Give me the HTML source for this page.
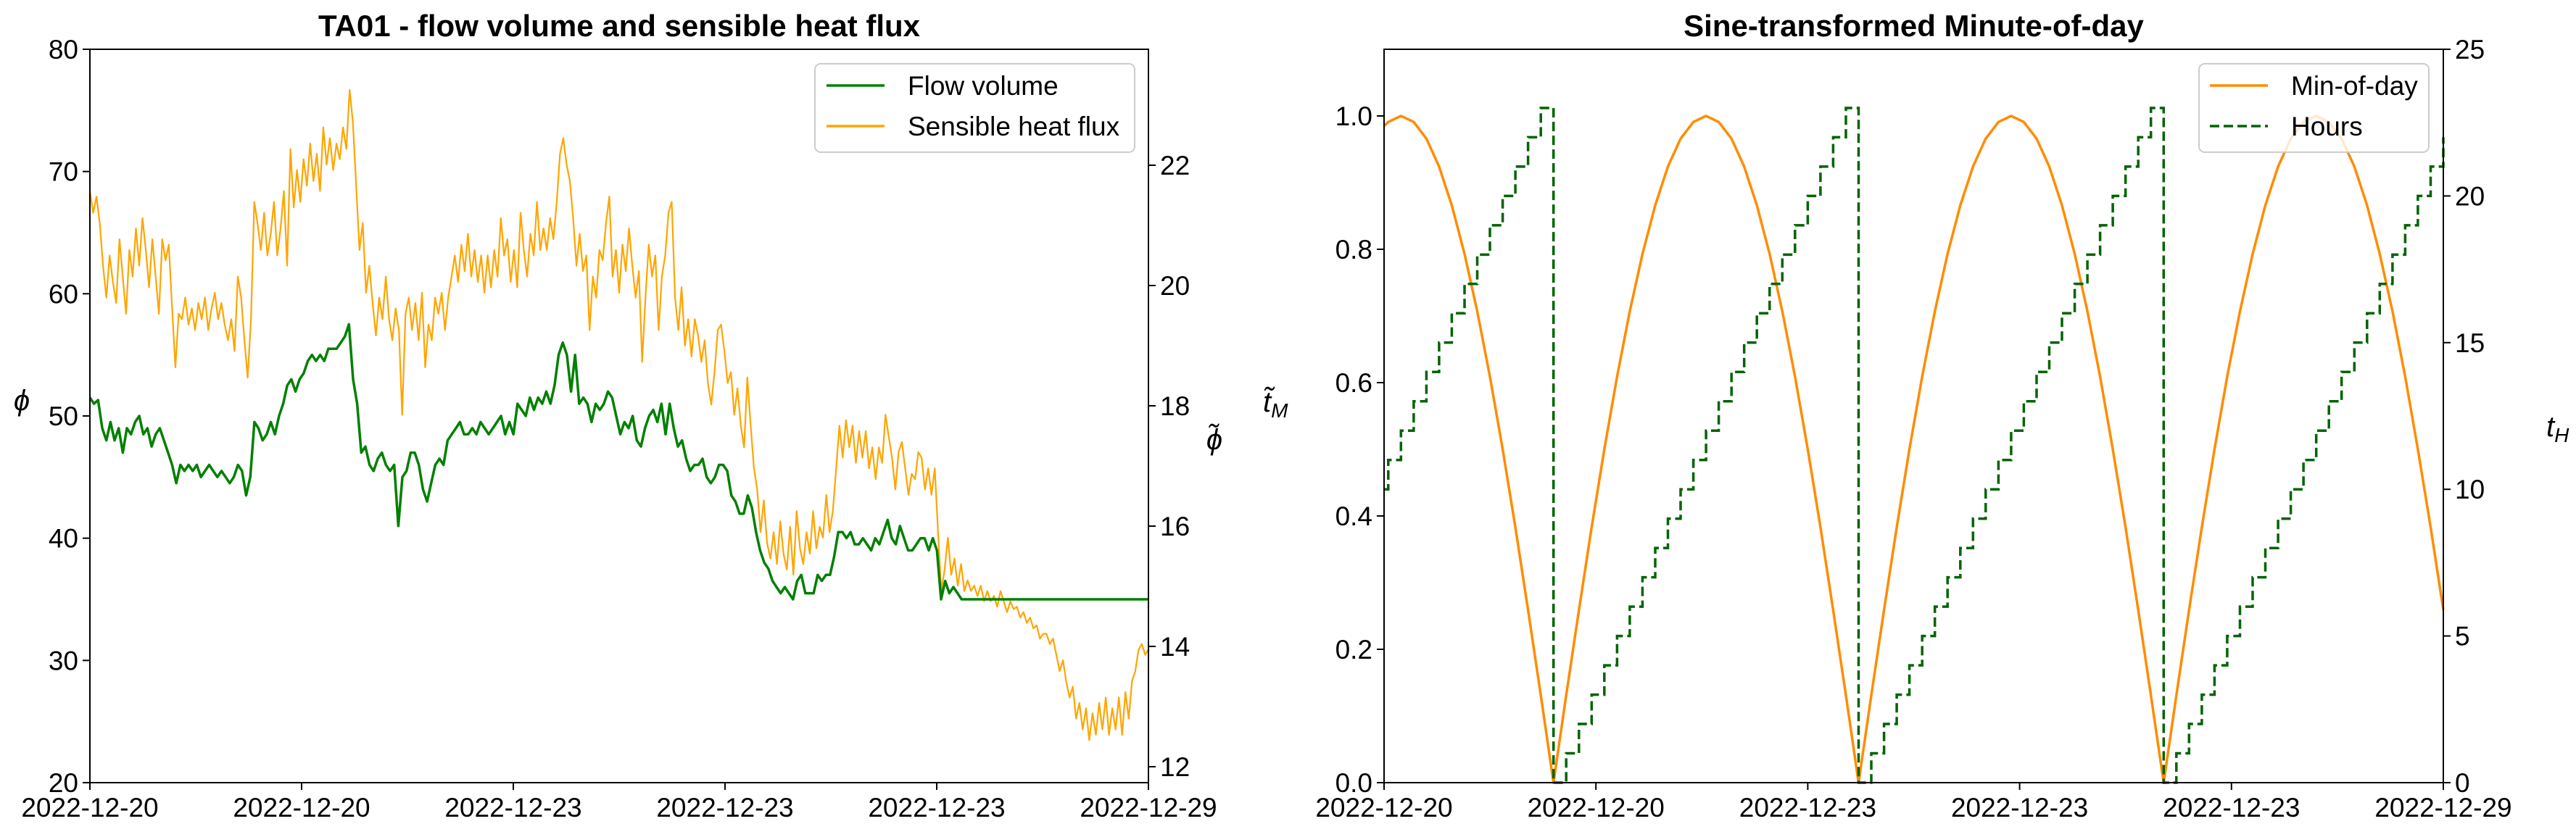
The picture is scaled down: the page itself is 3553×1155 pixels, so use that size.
<!DOCTYPE html>
<html><head><meta charset="utf-8"><style>
html,body{margin:0;padding:0;background:#fff;}
svg{display:block;font-family:"Liberation Sans",Arial,sans-serif;}
</style></head><body>
<svg id="fig" width="3553" height="1155" viewBox="0 0 3553 1155" xmlns="http://www.w3.org/2000/svg">
<rect x="0" y="0" width="3553" height="1155" fill="#fff"/>
<g id="left"></g>
<g id="right"></g>
</svg>
<script>
// ---------- data: left chart ----------
const leftXTickLabels = ["2022-12-20","2022-12-20","2022-12-23","2022-12-23","2022-12-23","2022-12-29"];
const leftYTicks = [20,30,40,50,60,70,80];
const leftY2Ticks = [12,14,16,18,20,22];
const leftSpanHours = 84;
const flowStepHours = 0.3263;
const flowValues = [51.5,51,51.3,49,48,49.5,48,49,47,49,48.5,49.5,50,48.5,49,47.5,48.5,49,48,47,46,44.5,46,45.5,46,45.5,46,45,45.5,46,45.5,45,45.5,45,44.5,45,46,45.5,43.5,45,49.5,49,48,48.5,49.5,48.5,50,51,52.5,53,52,53,53.5,54.5,55,54.5,55,54.5,55.5,55.5,55.5,56,56.5,57.5,53,51,47,47.5,46,45.5,46.5,47,46,45.5,46,41,45,45.5,47,47,46,44,43,44.5,46,46.5,46,48,48.5,49,49.5,48.5,48.5,49,48.5,49.5,49,48.5,49,49.5,50,48.5,49.5,48.5,51,50.5,50,51.5,50.5,51.5,51,52,51,52.5,55,56,55,52,55,51,51.5,51,49.5,51,50.5,51,52,51.5,50,48.5,49.5,49,50,48,47.5,49,50,50.5,49.5,51,48.5,51,49,47.5,48,46.5,45.5,46,46,46.5,45,44.5,45,46,46,45.5,43.5,43,42,42,43.5,42.5,40.5,39,38,37.5,36.5,36,35.5,36,35.5,35,36.5,37,35.5,35.5,35.5,37,36.5,37,37,38.5,40.5,40.5,40,40.5,39.5,39.5,40,39.5,39,40,39.5,40.5,41.5,40,39.5,41,40,39,39,39.5,40,40,39,40,39,35,36.5,35.5,36,35.5,35];
const heatValues = [21.57,21.21,21.48,21.04,20.33,19.80,20.50,20.06,19.71,20.77,20.15,19.53,20.59,20.15,20.95,20.33,21.12,20.59,19.97,20.77,20.15,19.53,20.77,20.42,20.68,19.62,18.64,19.53,19.44,19.80,19.35,19.62,19.26,19.71,19.44,19.80,19.26,19.62,19.88,19.44,19.71,19.35,19.09,19.44,18.91,20.15,19.80,19.09,18.47,19.44,21.39,21.04,20.59,21.21,20.50,20.86,21.39,20.50,20.95,21.57,20.33,22.27,21.30,21.92,21.39,22.10,21.66,22.36,21.74,22.19,21.57,22.63,22.01,22.45,21.92,22.36,22.10,22.63,22.27,23.25,22.72,21.66,20.59,21.04,19.88,20.33,19.71,19.17,19.80,19.44,20.15,19.44,19.09,19.62,19.26,17.85,19.53,19.80,19.26,19.71,19.09,19.88,18.64,19.35,19.09,19.80,19.53,19.88,19.26,19.80,20.15,20.50,20.06,20.68,20.24,20.86,20.15,20.59,20.06,20.50,19.88,20.50,19.97,20.59,20.15,21.12,20.50,20.77,20.06,20.59,19.97,21.21,20.59,20.15,20.86,20.50,21.39,20.59,20.95,20.59,21.12,20.77,21.39,22.19,22.45,22.01,21.74,21.12,20.33,20.86,20.24,20.50,19.26,20.15,19.80,20.59,20.42,21.04,21.48,20.15,20.59,19.88,20.68,20.24,20.95,20.33,19.80,20.24,18.73,19.80,20.68,20.15,20.50,19.26,20.15,20.50,21.21,21.39,19.80,19.26,19.97,19.00,19.44,18.82,19.44,19.17,18.73,19.09,18.38,18.02,18.56,19.26,19.35,18.91,18.38,18.56,17.85,18.29,17.67,17.31,18.47,17.67,16.96,16.61,15.90,16.43,15.72,15.46,15.90,15.37,16.08,15.54,15.28,15.99,15.19,16.25,15.63,15.37,15.90,15.54,16.25,15.63,15.99,15.81,16.52,15.90,16.25,16.96,17.67,17.14,17.76,17.31,17.67,17.05,17.58,17.14,17.58,16.96,17.31,16.78,17.31,17.05,17.85,17.49,17.14,16.61,17.23,17.40,16.96,16.52,16.87,16.78,17.23,17.14,16.61,16.96,16.52,16.96,15.90,14.92,15.28,15.81,15.19,15.46,15.01,15.37,14.92,15.10,14.92,15.01,14.84,15.01,14.75,14.92,14.75,14.84,14.66,14.92,14.75,14.57,14.75,14.62,14.66,14.48,14.57,14.39,14.48,14.30,14.35,14.13,14.21,14.21,14.04,14.13,13.86,13.59,13.77,13.42,13.15,13.33,12.80,13.06,12.62,12.97,12.44,12.89,12.53,13.06,12.62,13.15,12.53,12.97,12.62,13.15,12.53,13.24,12.80,13.42,13.59,13.95,14.04,13.86,13.95];

// ---------- data: right chart ----------
const rightXTickLabels = ["2022-12-20","2022-12-20","2022-12-23","2022-12-23","2022-12-23","2022-12-29"];
const rightYTicks = [0.0,0.2,0.4,0.6,0.8,1.0];
const rightY2Ticks = [0,5,10,15,20,25];
const sampleHours = [10.67,11,12,13,14,15,16,17,18,19,20,21,22,23,24,25,26,27,28,29,30,31,32,33,34,35,36,37,38,39,40,41,42,43,44,45,46,47,48,49,50,51,52,53,54,55,56,57,58,59,60,61,62,63,64,65,66,67,68,69,70,71,72,73,74,75,76,77,78,79,80,81,82,83,84,85,86,87,88,89,90,91,92,93,94];
const hourValues = [10,11,12,13,14,15,16,17,18,19,20,21,22,23,0,1,2,3,4,5,6,7,8,9,10,11,12,13,14,15,16,17,18,19,20,21,22,23,0,1,2,3,4,5,6,7,8,9,10,11,12,13,14,15,16,17,18,19,20,21,22,23,0,1,2,3,4,5,6,7,8,9,10,11,12,13,14,15,16,17,18,19,20,21,22];
const minOfDayValues = [0.985,0.991,1,0.991,0.966,0.924,0.866,0.793,0.707,0.609,0.5,0.383,0.259,0.131,0,0.131,0.259,0.383,0.5,0.609,0.707,0.793,0.866,0.924,0.966,0.991,1,0.991,0.966,0.924,0.866,0.793,0.707,0.609,0.5,0.383,0.259,0.131,0,0.131,0.259,0.383,0.5,0.609,0.707,0.793,0.866,0.924,0.966,0.991,1,0.991,0.966,0.924,0.866,0.793,0.707,0.609,0.5,0.383,0.259,0.131,0,0.131,0.259,0.383,0.5,0.609,0.707,0.793,0.866,0.924,0.966,0.991,1,0.991,0.966,0.924,0.866,0.793,0.707,0.609,0.5,0.383,0.259];

const NS = "http://www.w3.org/2000/svg";
function mk(parent, tag, attrs, text){
  const e = document.createElementNS(NS, tag);
  for (const k in attrs) e.setAttribute(k, attrs[k]);
  if (text !== undefined) e.textContent = text;
  parent.appendChild(e);
  return e;
}
const FS = 37;

function axesFrame(g, L, R, T, B, xLabels, yTicks, yScale, yFmt, y2Ticks, y2Scale, y2Fmt, prefix){
  xLabels.forEach((lab, i) => {
    const x = L + (R - L) * i / (xLabels.length - 1);
    const t = mk(g, "line", {x1:x, x2:x, y1:B, y2:B+10, stroke:"#000", "stroke-width":2});
    
    
    const tx = mk(g, "text", {x:x, y:B+47, "font-size":FS, "text-anchor":"middle"}, lab);
    
    
  });
  yTicks.forEach(v => {
    const y = yScale(v);
    const t = mk(g, "line", {x1:L-10, x2:L, y1:y, y2:y, stroke:"#000", "stroke-width":2});
    
    
    const tx = mk(g, "text", {x:L-16, y:y+13, "font-size":FS, "text-anchor":"end"}, yFmt(v));
    
    
  });
  y2Ticks.forEach(v => {
    const y = y2Scale(v);
    const t = mk(g, "line", {x1:R, x2:R+10, y1:y, y2:y, stroke:"#000", "stroke-width":2});
    
    
    const tx = mk(g, "text", {x:R+16, y:y+13, "font-size":FS, "text-anchor":"start"}, y2Fmt(v));
    
    
  });
}

// ---------- left chart ----------
(function(){
  const g = document.getElementById("left");
  const L=124, R=1584, T=68, B=1080;
  const x = h => L + (R-L) * h / leftSpanHours;
  const y = v => B - (v-20) * (B-T) / 60;
  const y2min = 12 - (B-1058)/83, y2max = 22 + (228-T)/83;
  const y2 = v => B - (v - y2min) * (B-T) / (y2max - y2min);
  const heatStep = leftSpanHours / (heatValues.length - 1);

  let d = "";
  heatValues.forEach((v,i) => { d += (i? "L":"M") + x(i*heatStep).toFixed(1) + "," + y2(v).toFixed(1); });
  const hp = mk(g, "path", {d:d, fill:"none", stroke:"#ffa500", "stroke-width":2.2, "stroke-linejoin":"round"});
  
  

  let d2 = "";
  flowValues.forEach((v,i) => { d2 += (i? "L":"M") + x(i*flowStepHours).toFixed(1) + "," + y(v).toFixed(1); });
  d2 += "L" + R + "," + y(flowValues[flowValues.length-1]).toFixed(1);
  const fp = mk(g, "path", {d:d2, fill:"none", stroke:"#008000", "stroke-width":3.5, "stroke-linejoin":"round"});
  
  

  const fr = mk(g, "rect", {x:L, y:T, width:R-L, height:B-T, fill:"none", stroke:"#000", "stroke-width":2});
  
  

  axesFrame(g, L, R, T, B, leftXTickLabels, leftYTicks, y, v=>String(v), leftY2Ticks, y2, v=>String(v), "left");

  const title = mk(g, "text", {x:(L+R)/2, y:50, "font-size":42, "font-weight":"bold", "text-anchor":"middle"}, "TA01 - flow volume and sensible heat flux");
  
  
  const yl = mk(g, "text", {x:30, y:566, "font-size":40, "font-style":"italic", "text-anchor":"middle"}, "ϕ");
  
  
  const y2l = mk(g, "text", {x:1675, y:620, "font-size":40, "font-style":"italic", "text-anchor":"middle"}, "ϕ̃");
  
  

  const lg = mk(g, "g", {});
  
  
  mk(lg, "rect", {x:1124, y:88, width:441, height:122, rx:8, fill:"#fff", "fill-opacity":0.8, stroke:"#cccccc", "stroke-width":2});
  const e1 = mk(lg, "line", {x1:1140, x2:1220, y1:118, y2:118, stroke:"#008000", "stroke-width":3.5});
  
  
  mk(lg, "text", {x:1252, y:131, "font-size":FS}, "Flow volume");
  const e2 = mk(lg, "line", {x1:1140, x2:1220, y1:174, y2:174, stroke:"#ffa500", "stroke-width":3.5});
  
  
  mk(lg, "text", {x:1252, y:187, "font-size":FS}, "Sensible heat flux");
})();

// ---------- right chart ----------
(function(){
  const g = document.getElementById("right");
  const L=1909, R=3370, T=68, B=1080;
  const h0 = sampleHours[0], h1 = sampleHours[sampleHours.length-1];
  const x = h => L + (R-L) * (h - h0) / (h1 - h0);
  const y = v => B - v * (B-T) / 1.1;
  const y2 = v => B - v * (B-T) / 25;

  let d = "";
  minOfDayValues.forEach((v,i) => { d += (i? "L":"M") + x(sampleHours[i]).toFixed(1) + "," + y(v).toFixed(1); });
  const mp = mk(g, "path", {d:d, fill:"none", stroke:"#ff8c00", "stroke-width":3.5, "stroke-linejoin":"round"});
  
  

  let d2 = "";
  hourValues.forEach((v,i) => {
    const xi = x(sampleHours[i]).toFixed(1), yi = y2(v).toFixed(1);
    if (i === 0) d2 += "M" + xi + "," + yi;
    else d2 += "L" + xi + "," + y2(hourValues[i-1]).toFixed(1) + "L" + xi + "," + yi;
  });
  const hp = mk(g, "path", {d:d2, fill:"none", stroke:"#006400", "stroke-width":3.5, "stroke-dasharray":"13,6"});
  
  

  const fr = mk(g, "rect", {x:L, y:T, width:R-L, height:B-T, fill:"none", stroke:"#000", "stroke-width":2});
  
  

  axesFrame(g, L, R, T, B, rightXTickLabels, rightYTicks, y, v=>v.toFixed(1), rightY2Ticks, y2, v=>String(v), "right");

  const title = mk(g, "text", {x:(L+R)/2, y:50, "font-size":42, "font-weight":"bold", "text-anchor":"middle"}, "Sine-transformed Minute-of-day");
  
  
  const yl = mk(g, "text", {x:1742, y:568, "font-size":40, "font-style":"italic"}, "t̃");
  
  
  mk(yl, "tspan", {"font-size":28, dy:8}, "M");
  const y2l = mk(g, "text", {x:3512, y:602, "font-size":40, "font-style":"italic"}, "t");
  
  
  mk(y2l, "tspan", {"font-size":28, dy:8}, "H");

  const lg = mk(g, "g", {});
  
  
  mk(lg, "rect", {x:3033, y:88, width:317, height:122, rx:8, fill:"#fff", "fill-opacity":0.8, stroke:"#cccccc", "stroke-width":2});
  const e1 = mk(lg, "line", {x1:3048, x2:3128, y1:118, y2:118, stroke:"#ff8c00", "stroke-width":3.5});
  
  
  mk(lg, "text", {x:3160, y:131, "font-size":FS}, "Min-of-day");
  const e2 = mk(lg, "line", {x1:3048, x2:3128, y1:174, y2:174, stroke:"#006400", "stroke-width":3.5, "stroke-dasharray":"13,6"});
  
  
  mk(lg, "text", {x:3160, y:187, "font-size":FS}, "Hours");
})();
</script>
</body></html>
